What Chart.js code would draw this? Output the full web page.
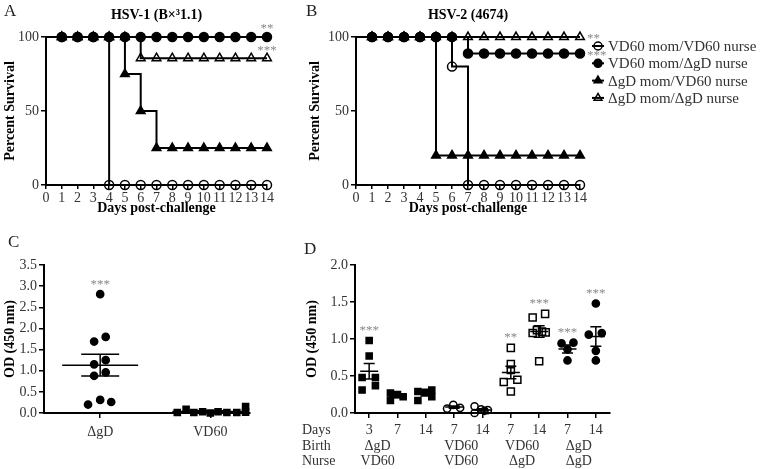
<!DOCTYPE html>
<html>
<head>
<meta charset="utf-8">
<script src="https://cdn.jsdelivr.net/npm/chart.js"></script>
<style>
  html, body { margin: 0; padding: 0; background: #fff; }
  #fig { position: relative; width: 771px; height: 469px; overflow: hidden; }
  #fig canvas { position: absolute; }
</style>
</head>
<body>
<div id="fig">
  <canvas id="cA" width="300" height="225" style="left:0;top:0"></canvas>
  <canvas id="cB" width="471" height="225" style="left:300px;top:0"></canvas>
  <canvas id="cC" width="300" height="239" style="left:0;top:230px"></canvas>
  <canvas id="cD" width="471" height="239" style="left:300px;top:230px"></canvas>
</div>
<script>
// ---- Data ----
// A / B : percent survival, one value per day 0..14
const days = [0, 1, 2, 3, 4, 5, 6, 7, 8, 9, 10, 11, 12, 13, 14];
const groupLabels = ['VD60 mom/VD60 nurse', 'VD60 mom/ΔgD nurse', 'ΔgD mom/VD60 nurse', 'ΔgD mom/ΔgD nurse'];

const hsv1VdVd = [100, 100, 100, 100, 0, 0, 0, 0, 0, 0, 0, 0, 0, 0, 0];
const hsv1VdDg = [100, 100, 100, 100, 100, 100, 100, 100, 100, 100, 100, 100, 100, 100, 100];
const hsv1DgVd = [100, 100, 100, 100, 100, 75, 50, 25, 25, 25, 25, 25, 25, 25, 25];
const hsv1DgDg = [100, 100, 100, 100, 100, 100, 85.7, 85.7, 85.7, 85.7, 85.7, 85.7, 85.7, 85.7, 85.7];
const hsv1Sig  = ['', '**', '', '***'];

const hsv2VdVd = [100, 100, 100, 100, 100, 100, 80, 0, 0, 0, 0, 0, 0, 0, 0];
const hsv2VdDg = [100, 100, 100, 100, 100, 100, 100, 88.9, 88.9, 88.9, 88.9, 88.9, 88.9, 88.9, 88.9];
const hsv2DgVd = [100, 100, 100, 100, 100, 20, 20, 20, 20, 20, 20, 20, 20, 20, 20];
const hsv2DgDg = [100, 100, 100, 100, 100, 100, 100, 100, 100, 100, 100, 100, 100, 100, 100];
const hsv2Sig  = ['', '***', '', '**'];

// C : OD (450 nm) per pup, by mother's vaccine
const cCategories = ['ΔgD', 'VD60'];
const cDgD  = [2.81, 1.69, 1.80, 1.25, 1.15, 0.96, 0.88, 0.20, 0.31, 0.26];
const cVD60 = [0.01, 0.09, 0.01, 0.03, 0.00, 0.03, 0.01, 0.01, 0.15, 0.02];
const cSig  = ['***', ''];

// D : OD (450 nm) per pup, by days / birth mother / nursing mother
const dDays  = ['3', '7', '14', '7', '14', '7', '14', '7', '14'];
const dBirth = ['ΔgD', 'VD60', 'VD60', 'ΔgD'];
const dNurse = ['VD60', 'VD60', 'ΔgD', 'ΔgD'];
const dGroups = [
  [0.98, 0.77, 0.48, 0.48, 0.31, 0.37],
  [0.27, 0.17, 0.25, 0.22],
  [0.29, 0.17, 0.28, 0.31, 0.22],
  [0.06, 0.11, 0.07],
  [0.09, 0.00, 0.05, 0.04, 0.03],
  [0.88, 0.66, 0.58, 0.42, 0.45, 0.29],
  [1.29, 1.34, 1.08, 1.12, 1.10, 1.09, 0.70],
  [0.94, 0.95, 0.86, 0.71],
  [1.48, 1.06, 1.08, 0.84, 0.71],
];
const dSig = ['***', '', '', '', '', '**', '***', '***', '***'];

// ---- Layout / style (not data) ----
// horizontal spread of the dots inside a column, in x-axis units
const cJitter = [
  [0, -0.055, 0.05, 0.05, -0.055, 0.05, -0.055, -0.11, 0, 0.1],
  [-0.30, -0.22, -0.15, -0.07, 0, 0.07, 0.15, 0.24, 0.32, 0.32],
];
const dJitter = [
  [0, 0, -0.25, 0.22, -0.25, 0.22],
  [-0.25, -0.25, 0, 0.2],
  [-0.28, -0.28, -0.03, 0.21, 0.21],
  [-0.25, -0.03, 0.21],
  [-0.28, -0.28, -0.05, 0.19, 0.07],
  [0, 0, 0, -0.25, 0.23, 0],
  [-0.23, 0.21, -0.23, -0.08, 0.1, 0.23, 0],
  [-0.21, 0.21, 0, 0],
  [0, -0.25, 0.21, 0, 0],
];
const dBirthAt = [1.3, 4.25, 6.4, 8.4]; // where the Birth/Nurse labels sit on the x axis

const FONT = '"Liberation Serif", "Times New Roman", serif';
const HOLLOW = 'rgba(0,0,0,0)';
Chart.defaults.font.family = FONT;
Chart.defaults.color = '#333';

const survMarkers = [
  { style: 'circle',   fill: HOLLOW, r: 4.5 },
  { style: 'circle',   fill: '#000', r: 4.5 },
  { style: 'triangle', fill: '#000', r: 5 },
  { style: 'triangle', fill: HOLLOW, r: 5 },
];
const survOrder = [2, 0, 1, 3]; // lower = on top
const dotStyles = {
  sqF: { style: 'rect',   fill: '#000', r: 4.3 },
  sqO: { style: 'rect',   fill: HOLLOW, r: 5 },
  ciF: { style: 'circle', fill: '#000', r: 3.6 },
  ciO: { style: 'circle', fill: HOLLOW, r: 3.6 },
};
const cStyle = ['ciF', 'sqF'];
const dStyle = ['sqF', 'sqF', 'sqF', 'ciO', 'ciO', 'sqO', 'sqO', 'ciF', 'ciF'];

// ---- Plugins ----
// Panel letter + bold title centred over the plot
const panelText = { id: 'panelText', afterDraw(chart, args, o) {
  const { ctx, chartArea } = chart;
  ctx.save();
  ctx.fillStyle = '#222';
  ctx.textBaseline = 'middle';
  ctx.font = `17px ${FONT}`;
  ctx.textAlign = 'left';
  ctx.fillText(o.letter, o.lx, o.ly);
  if (o.title) {
    ctx.font = `bold 14px ${FONT}`;
    ctx.fillStyle = '#000';
    ctx.textAlign = 'center';
    ctx.fillText(o.title, (chartArea.left + chartArea.right) / 2, o.ty);
  }
  ctx.restore();
}};

// significance stars next to the last point of a survival curve
const survSig = { id: 'survSig', afterDatasetsDraw(chart, args, o) {
  const { ctx } = chart;
  ctx.save();
  ctx.fillStyle = '#888';
  ctx.font = `13px ${FONT}`;
  ctx.textBaseline = 'middle';
  (o.labels || []).forEach((lab, i) => {
    if (!lab) return;
    const pts = chart.getDatasetMeta(i).data;
    const p = pts[pts.length - 1];
    if (o.place === 'above') { ctx.textAlign = 'center'; ctx.fillText(lab, p.x, p.y - 8); }
    else { ctx.textAlign = 'left'; ctx.fillText(lab, p.x + 7, p.y + 2); }
  });
  ctx.restore();
}};

// legend: short line with the marker in its middle, then the label
const survLegend = { id: 'survLegend', afterDraw(chart, args, o) {
  if (!o.show) return;
  const { ctx } = chart;
  ctx.save();
  chart.data.datasets.forEach((ds, i) => {
    const m = survMarkers[i];
    const y = o.y0 + i * o.dy;
    ctx.strokeStyle = '#000';
    ctx.lineWidth = 2;
    ctx.beginPath(); ctx.moveTo(o.x - 6, y); ctx.lineTo(o.x + 6, y); ctx.stroke();
    ctx.fillStyle = m.fill;
    ctx.lineWidth = 1.5;
    Chart.helpers.drawPoint(ctx, { pointStyle: m.style, radius: m.r - 0.5, rotation: 0, borderWidth: 1.5 }, o.x, y);
    ctx.fillStyle = '#333';
    ctx.font = `15px ${FONT}`;
    ctx.textAlign = 'left';
    ctx.textBaseline = 'middle';
    ctx.fillText(ds.label, o.x + 10, y + 1);
  });
  ctx.restore();
}};

// mean line + SEM bars, and the stars above each column
const meanSem = { id: 'meanSem', afterDatasetsDraw(chart, args, o) {
  const { ctx, scales: { x, y } } = chart;
  ctx.save();
  ctx.strokeStyle = '#000';
  ctx.lineWidth = 1.5;
  chart.data.datasets.forEach((ds, i) => {
    const vals = ds.data.map(p => p.y);
    const n = vals.length;
    const mean = vals.reduce((a, b) => a + b, 0) / n;
    const sd = Math.sqrt(vals.reduce((a, b) => a + (b - mean) ** 2, 0) / (n - 1));
    const sem = sd / Math.sqrt(n);
    const cx = x.getPixelForValue(ds.groupX);
    const ym = y.getPixelForValue(mean), yt = y.getPixelForValue(mean + sem), yb = y.getPixelForValue(mean - sem);
    ctx.beginPath();
    ctx.moveTo(cx - o.meanHalf, ym); ctx.lineTo(cx + o.meanHalf, ym);
    ctx.moveTo(cx, yt); ctx.lineTo(cx, yb);
    ctx.moveTo(cx - o.capHalf, yt); ctx.lineTo(cx + o.capHalf, yt);
    ctx.moveTo(cx - o.capHalf, yb); ctx.lineTo(cx + o.capHalf, yb);
    ctx.stroke();
    if (ds.sig) {
      const top = y.getPixelForValue(Math.max(...vals));
      ctx.fillStyle = '#888';
      ctx.font = `13px ${FONT}`;
      ctx.textAlign = 'center';
      ctx.textBaseline = 'middle';
      ctx.fillText(ds.sig, cx, top - 10);
    }
  });
  ctx.restore();
}};

// Birth / Nurse rows under panel D, plus the row titles
const rowLabels = { id: 'rowLabels', afterDraw(chart, args, o) {
  if (!o.rows) return;
  const { ctx, scales: { x } } = chart;
  ctx.save();
  ctx.fillStyle = '#333';
  ctx.font = `14px ${FONT}`;
  ctx.textBaseline = 'middle';
  o.rows.forEach(r => {
    ctx.textAlign = 'left';
    ctx.fillText(r.title, o.titleX, r.y);
    if (!r.labels) return;
    ctx.textAlign = 'center';
    r.labels.forEach((lab, k) => ctx.fillText(lab, x.getPixelForValue(o.at[k]), r.y));
  });
  ctx.restore();
}};

// ---- Shared axis pieces ----
const tickGrid = len => ({ drawOnChartArea: false, tickLength: len, color: '#000', lineWidth: 1.5 });
const axisBorder = { color: '#000', width: 2 };
const boldTitle = (text, pad) => ({ display: true, text, color: '#000', font: { size: 14, weight: 'bold' }, padding: pad });

// ---- A / B : survival ----
function survivalChart(id, series, sig, place, panel, pad, yWidth, legend) {
  return new Chart(document.getElementById(id), {
    type: 'line',
    data: {
      labels: days.map(String),
      datasets: series.map((vals, i) => {
        const m = survMarkers[i];
        return {
          label: groupLabels[i],
          data: vals,
          stepped: 'before',
          borderColor: '#000',
          borderWidth: 2,
          pointStyle: m.style,
          pointRadius: c => c.dataIndex === 0 ? 0 : m.r,
          pointBackgroundColor: m.fill,
          pointBorderColor: '#000',
          pointBorderWidth: 1.5,
          clip: false,
          order: survOrder[i],
        };
      }),
    },
    options: {
      responsive: false,
      animation: false,
      events: [],
      layout: { padding: pad },
      plugins: {
        legend: { display: false },
        tooltip: { enabled: false },
        panelText: panel,
        survSig: { labels: sig, place },
        survLegend: legend,
      },
      scales: {
        x: {
          grid: tickGrid(4), border: axisBorder,
          ticks: { color: '#333', font: { size: 14 }, padding: 1, maxRotation: 0, autoSkip: false },
          title: boldTitle('Days post-challenge', { top: 0, bottom: 8 }),
          afterFit: s => { s.height = 40; },
        },
        y: {
          min: 0, max: 100,
          grid: tickGrid(5), border: axisBorder,
          ticks: { stepSize: 50, color: '#333', font: { size: 14 }, padding: 2 },
          title: boldTitle('Percent Survival', { top: 2, bottom: 0 }),
          afterFit: s => { s.width = yWidth; },
        },
      },
    },
    plugins: [panelText, survSig, survLegend],
  });
}

survivalChart('cA', [hsv1VdVd, hsv1VdDg, hsv1DgVd, hsv1DgDg], hsv1Sig, 'above',
  { letter: 'A', lx: 4, ly: 12, title: 'HSV-1 (B×³1.1)', ty: 15 },
  { left: 0, top: 37, right: 33, bottom: 0 }, 46, { show: false });

survivalChart('cB', [hsv2VdVd, hsv2VdDg, hsv2DgVd, hsv2DgDg], hsv2Sig, 'right',
  { letter: 'B', lx: 6, ly: 12, title: 'HSV-2 (4674)', ty: 15 },
  { left: 5, top: 37, right: 191, bottom: 0 }, 51, { show: true, x: 298, y0: 46, dy: 17.3 });

// ---- C / D : OD dot plots ----
function dotChart(id, groups, jitter, styles, sig, xMin, xMax, yMax, tickLabels, opts) {
  return new Chart(document.getElementById(id), {
    type: 'scatter',
    data: {
      datasets: groups.map((vals, g) => {
        const st = dotStyles[styles[g]];
        return {
          data: vals.map((v, k) => ({ x: g + 1 + jitter[g][k], y: v })),
          groupX: g + 1,
          sig: sig[g],
          pointStyle: st.style,
          pointRadius: st.r,
          pointBackgroundColor: st.fill,
          pointBorderColor: '#000',
          pointBorderWidth: 1.5,
          clip: false,
        };
      }),
    },
    options: {
      responsive: false,
      animation: false,
      events: [],
      layout: { padding: opts.pad },
      plugins: {
        legend: { display: false },
        tooltip: { enabled: false },
        panelText: opts.panel,
        meanSem: opts.bars,
        rowLabels: opts.rows || {},
      },
      scales: {
        x: {
          type: 'linear', min: xMin, max: xMax,
          afterBuildTicks: s => { s.ticks = tickLabels.map((_, i) => ({ value: i + 1 })); },
          grid: tickGrid(5), border: axisBorder,
          ticks: { color: '#333', font: { size: 14 }, padding: opts.tickPad, maxRotation: 0, autoSkip: false,
                   callback: (v, i) => tickLabels[i] },
          afterFit: s => { s.height = 56; },
        },
        y: {
          min: 0, max: yMax,
          grid: tickGrid(5), border: axisBorder,
          ticks: { stepSize: 0.5, color: '#333', font: { size: 14 }, padding: 2, callback: v => v.toFixed(1) },
          title: boldTitle('OD (450 nm)', { top: 2, bottom: 0 }),
          afterFit: s => { s.width = opts.yWidth; },
        },
      },
    },
    plugins: [panelText, meanSem, rowLabels],
  });
}

dotChart('cC', [cDgD, cVD60], cJitter, cStyle, cSig, 0.49, 2.36, 3.5, cCategories, {
  pad: { left: 0, top: 35, right: 50, bottom: 0 }, yWidth: 44, tickPad: 6,
  panel: { letter: 'C', lx: 8, ly: 13 },
  bars: { meanHalf: 38, capHalf: 19 },
});

dotChart('cD', dGroups, dJitter, dStyle, dSig, 0.5, 9.5, 2, dDays, {
  pad: { left: 2, top: 35, right: 161, bottom: 0 }, yWidth: 53, tickPad: 4,
  panel: { letter: 'D', lx: 4, ly: 20 },
  bars: { meanHalf: 9, capHalf: 5.5 },
  rows: { titleX: 2, at: dBirthAt, rows: [
    { title: 'Days', y: 200 },
    { title: 'Birth', y: 216, labels: dBirth },
    { title: 'Nurse', y: 231, labels: dNurse },
  ]},
});
</script>
</body>
</html>
